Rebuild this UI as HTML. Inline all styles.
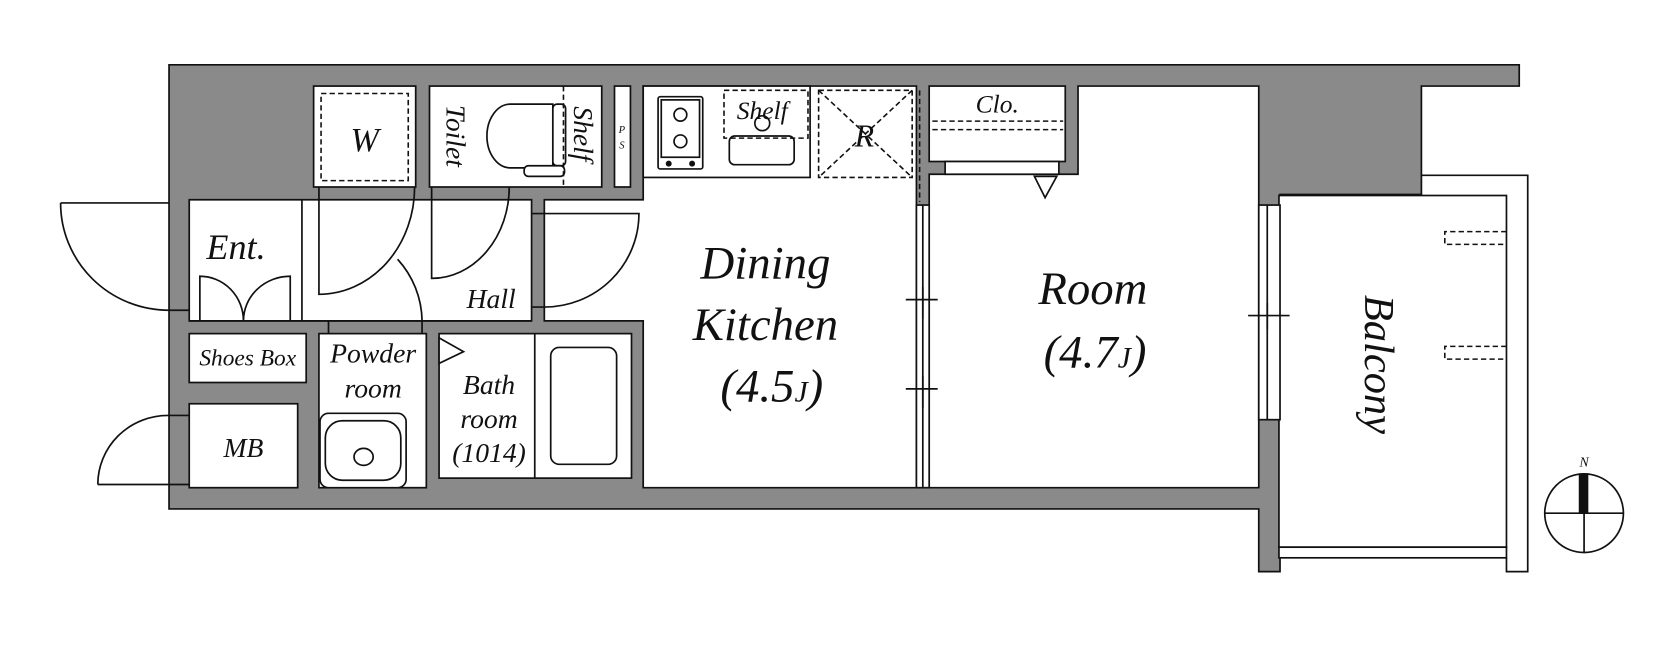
<!DOCTYPE html>
<html><head><meta charset="utf-8"><style>
html,body{margin:0;padding:0;background:#fff;}
svg{display:block;}
text{font-family:"Liberation Serif",serif;font-style:italic;fill:#111;}
</style></head><body>
<svg width="1667" height="646" viewBox="0 0 1568 608" preserveAspectRatio="none" xmlns="http://www.w3.org/2000/svg">
<g stroke="#111" stroke-width="1.6" fill="#fff">
<!-- balcony outer frame -->
<path d="M1337,165 L1437,165 L1437,538 L1417,538 L1417,525" fill="none"/>
<!-- gray structure -->
<polygon fill="#8a8a8a" points="159,61 1429,61 1429,81 1337,81 1337,183 1204,183 1204,538 1184,538 1184,479 159,479"/>
<!-- balcony -->
<rect x="1203" y="184" width="214" height="331"/>
<rect x="1203" y="515" width="214" height="10"/>
<!-- rooms -->
<rect x="295" y="81" width="96" height="95"/>
<rect x="404" y="81" width="162" height="95"/>
<rect x="578" y="81" width="15" height="95"/>
<polygon points="178,188 500,188 500,302 178,302"/>
<polygon points="605,81 862,81 862,459 605,459 605,302 512,302 512,188 605,188"/>
<rect x="178" y="314" width="110" height="46"/>
<rect x="178" y="380" width="102" height="79"/>
<rect x="300" y="314" width="101" height="145"/>
<rect x="413" y="314" width="181" height="136"/>
<line x1="503" y1="314" x2="503" y2="450"/>
<rect x="518" y="327" width="62" height="110" rx="8"/>
<rect x="301" y="389" width="81" height="70" rx="8"/>
<rect x="306" y="396" width="71" height="56" rx="16"/>
<ellipse cx="342" cy="430" rx="9" ry="8"/>
<!-- kitchen -->
<rect x="605" y="81" width="157" height="86"/>
<rect x="619" y="91" width="42" height="68" rx="2"/>
<rect x="622" y="94" width="36" height="54"/>
<circle cx="640" cy="108" r="6"/><circle cx="640" cy="133" r="6"/>
<circle cx="629" cy="154" r="2" fill="#111"/><circle cx="651" cy="154" r="2" fill="#111"/>
<rect x="686" y="128" width="61" height="27" rx="5"/>
<circle cx="717" cy="116" r="7"/>
<!-- room -->
<polygon points="1014,81 1184,81 1184,459 874,459 874,164 1014,164"/>
<rect x="874" y="81" width="128" height="71"/>
<rect x="889" y="152" width="107" height="12"/>
<rect x="862" y="193" width="12" height="266"/>
<line x1="868" y1="193" x2="868" y2="459"/>
<rect x="1184" y="193" width="20" height="202"/>
<line x1="1192" y1="193" x2="1192" y2="395"/>
<polygon points="973,166 994,166 983,186"/>
<polygon points="413,318 436,331 413,342"/>
<!-- toilet -->
<path d="M520,98 L480,98 A22,30 0 0 0 480,158 L520,158 Z"/>
<rect x="520" y="98" width="12" height="58" rx="4"/>
<rect x="493" y="156" width="38" height="10" rx="4"/>
</g>
<g stroke="#111" stroke-width="1.6" fill="none">
<!-- doors -->
<path d="M57,191 L159,191 M57,191 A102,101 0 0 0 159,292 L178,292"/>
<path d="M92,456 L178,456 M92,456 A66,65 0 0 1 158,391 L178,391"/>
<path d="M188,302 L188,260 A41,42 0 0 1 229,302 M273,302 L273,260 A44,42 0 0 0 229,302"/>
<path d="M300,176 L300,277 A90,101 0 0 0 390,176"/>
<path d="M406,176 L406,262 A73,86 0 0 0 479,176"/>
<path d="M309,314 L309,302 M374,244 A88,88 0 0 1 397,302 L397,314"/>
<path d="M500,201 L601,201 A89,88 0 0 1 512,289 L500,289"/>
<line x1="284" y1="188" x2="284" y2="302"/>
<line x1="178" y1="302" x2="500" y2="302"/>
<!-- window ticks -->
<path d="M852,282 L882,282 M868,270 L868,300 M852,366 L882,366 M868,354 L868,384 M1174,297 L1213,297 M1192,285 L1192,310"/>
<!-- compass -->
<circle cx="1490" cy="483" r="37"/>
<line x1="1453" y1="483" x2="1527" y2="483"/><line x1="1490" y1="483" x2="1490" y2="520"/>
</g>
<rect x="1485" y="446" width="9" height="37" fill="#111"/>
<g stroke="#111" stroke-width="1.5" fill="none" stroke-dasharray="5,3">
<rect x="302" y="88" width="82" height="82"/>
<line x1="530" y1="81" x2="530" y2="176"/>
<rect x="681" y="85" width="79" height="45"/>
<rect x="770" y="85" width="88" height="82"/>
<path d="M770,85 L858,167 M858,85 L770,167"/>
<line x1="865" y1="85" x2="865" y2="190"/>
<path d="M877,114 L1000,114 M877,122 L1000,122"/>
<path d="M1417,218 L1359,218 L1359,230 L1417,230 M1417,326 L1359,326 L1359,338 L1417,338"/>
</g>
<g text-anchor="middle">
<text x="222" y="244" font-size="34">Ent.</text>
<text x="462" y="290" font-size="26">Hall</text>
<text x="233" y="344" font-size="22">Shoes Box</text>
<text x="351" y="341" font-size="26">Powder</text>
<text x="351" y="374" font-size="26">room</text>
<text x="229" y="430" font-size="26">MB</text>
<text x="460" y="371" font-size="26">Bath</text>
<text x="460" y="403" font-size="26">room</text>
<text x="460" y="435" font-size="26">(1014)</text>
<text x="343" y="142" font-size="32">W</text>
<text x="717" y="112" font-size="24">Shelf</text>
<text x="813" y="138" font-size="30">R</text>
<text x="938" y="106" font-size="24">Clo.</text>
<text x="720" y="262" font-size="44">Dining</text>
<text x="720" y="320" font-size="44">Kitchen</text>
<text x="726" y="378" font-size="44">(4.5<tspan font-size="28">J</tspan>)</text>
<text x="1028" y="286" font-size="44">Room</text>
<text x="1030" y="346" font-size="44">(4.7<tspan font-size="28">J</tspan>)</text>
<text x="585" y="125" font-size="10">P</text>
<text x="585" y="140" font-size="10">S</text>
<text x="1490" y="439" font-size="13" font-style="normal">N</text>
<text transform="translate(420,128) rotate(90)" font-size="26">Toilet</text>
<text transform="translate(540,126) rotate(90)" font-size="26">Shelf</text>
<text transform="translate(1284,343) rotate(90)" font-size="40">Balcony</text>
</g>
</svg>
</body></html>
